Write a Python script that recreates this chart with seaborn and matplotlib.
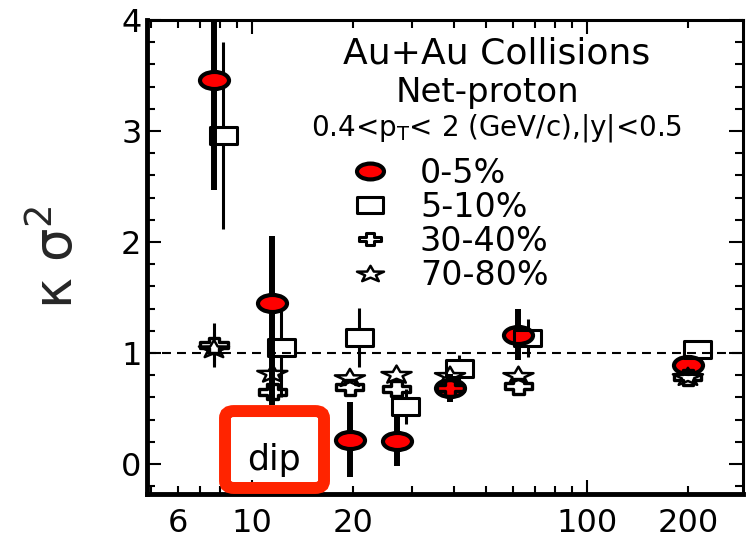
import numpy as np
import pandas as pd
import matplotlib
matplotlib.use("Agg")
import matplotlib.pyplot as plt
import seaborn as sns
from matplotlib.path import Path
from matplotlib.transforms import Affine2D
from matplotlib.lines import Line2D
from matplotlib.patches import FancyBboxPatch
from matplotlib.ticker import MultipleLocator

# ---------------- data ----------------
energy = [7.7, 11.5, 19.6, 27, 39, 62.4, 200]

k05 = [3.46, 1.455, 0.22, 0.21, 0.685, 1.165, 0.895]
k05_lo = [0.99, 0.92, 0.34, 0.23, 0.13, 0.23, 0.04]
k05_hi = [1.00, 0.60, 0.34, 0.21, 0.13, 0.23, 0.04]

k510 = [2.96, 1.05, 1.14, 0.52, 0.86, 1.135, 1.03]
k510_err = [0.84, 0.45, 0.27, 0.16, 0.12, 0.17, 0.04]

k3040 = [1.07, 0.65, 0.69, 0.68, 0.685, 0.70, 0.78]
k3040_err = [0.20, 0.06, 0.04, 0.04, 0.04, 0.04, 0.02]

k7080 = [1.04, 0.82, 0.78, 0.81, 0.80, 0.80, 0.79]
k7080_err = [0.15, 0.05, 0.03, 0.03, 0.03, 0.03, 0.01]

labels = ["0-5%", "5-10%", "30-40%", "70-80%"]
xtick_major = [10, 100]
xtick_minor = [5, 6, 7, 8, 9, 20, 30, 40, 50, 60, 70, 80, 90, 200]
xtick_minor_labels = ["", "6", "", "", "", "20", "", "", "", "", "", "", "", "200"]
ytick_major = [0, 1, 2, 3, 4]

# ---------------- style ----------------
sns.set_theme(style="ticks")
plt.rcParams["font.family"] = ["DejaVu Sans"]
plt.rcParams["mathtext.fontset"] = "dejavusans"

SHIFT_510 = 1.065
XLIM = (4.86, 292)
YLIM = (-0.27, 4.0)

# stretched marker shapes
ellipse = Path.unit_circle().transformed(Affine2D().scale(1.7, 1.0))
rect = Path([(-1.6, -1), (1.6, -1), (1.6, 1), (-1.6, 1), (-1.6, -1)],
            [Path.MOVETO, Path.LINETO, Path.LINETO, Path.LINETO, Path.CLOSEPOLY])
a = 0.40
cross_v = [(-a, 1), (a, 1), (a, a), (1, a), (1, -a), (a, -a), (a, -1), (-a, -1),
           (-a, -a), (-1, -a), (-1, a), (-a, a), (-a, 1)]
cross = Path(cross_v, [Path.MOVETO] + [Path.LINETO] * 11 + [Path.CLOSEPOLY]).transformed(
    Affine2D().scale(1.8, 1.0))
ang = np.pi / 2 + np.arange(10) * np.pi / 5
rad = np.where(np.arange(10) % 2 == 0, 1.0, 0.40)
star_v = np.column_stack([rad * np.cos(ang), rad * np.sin(ang) - 0.095])
star_v = np.vstack([star_v, star_v[:1]])
star = Path(star_v, [Path.MOVETO] + [Path.LINETO] * 9 + [Path.CLOSEPOLY]).transformed(
    Affine2D().scale(1.675, 1.0))

fig = plt.figure(figsize=(7.5, 5.42), dpi=100)
ax = fig.add_axes([147 / 750, 48 / 542, 596 / 750, 474 / 542])
ax.set_xscale("log")
ax.set_xlim(*XLIM)
ax.set_ylim(*YLIM)

px_per_unit = ax.bbox.height / (YLIM[1] - YLIM[0])

x05 = np.array(energy)
x510 = np.array(energy) * SHIFT_510

df = pd.DataFrame({"energy": energy, "x510": x510, "k05": k05, "k510": k510,
                   "k3040": k3040, "k7080": k7080})


def split_bars(x, y, lo, hi, half_px, lw, z):
    x = np.asarray(x); y = np.asarray(y); lo = np.asarray(lo); hi = np.asarray(hi)
    g = half_px / px_per_unit
    up = hi > g
    dn = lo > g
    ax.vlines(x[up], y[up] + g, y[up] + hi[up], color="black", lw=lw, zorder=z)
    ax.vlines(x[dn], y[dn] - lo[dn], y[dn] - g, color="black", lw=lw, zorder=z)


# reference line
ax.axhline(1.0, color="black", lw=1.5, ls=(0, (4.3, 2.9)), zorder=1)

# error bars
ax.vlines(x05, np.array(k05) - np.array(k05_lo), np.array(k05) + np.array(k05_hi),
          color="black", lw=4.3, zorder=2)
split_bars(x510, k510, k510_err, k510_err, 8.5, 2.2, 2)
split_bars(x05, k3040, k3040_err, k3040_err, 7.0, 2.2, 2)
split_bars(x05, k7080, k7080_err, k7080_err, 8.5, 2.2, 2)

# markers
sns.scatterplot(data=df, x="energy", y="k05", marker=ellipse, s=20.9 ** 2,
                color="#ff0000", edgecolor="black", linewidth=3.0, zorder=3, ax=ax)
sns.scatterplot(data=df, x="x510", y="k510", marker=rect, s=19.4 ** 2,
                color="none", edgecolor="black", linewidth=2.2, zorder=4, ax=ax)
sns.scatterplot(data=df, x="energy", y="k3040", marker=cross, s=19.5 ** 2,
                color="none", edgecolor="black", linewidth=2.4, zorder=4, ax=ax)
sns.scatterplot(data=df, x="energy", y="k7080", marker=star, s=21.6 ** 2,
                color="none", edgecolor="black", linewidth=1.8, zorder=4, ax=ax)

# axes styling
ax.set_xlabel("")
ax.set_ylabel("κ σ$^{2}$", fontsize=38)
ax.yaxis.set_label_coords(-0.105, 0.5)
ax.set_xticks(xtick_major, labels=[str(v) for v in xtick_major])
ax.set_xticks(xtick_minor, labels=xtick_minor_labels, minor=True)
ax.set_yticks(ytick_major, labels=[str(v) for v in ytick_major])
ax.yaxis.set_minor_locator(MultipleLocator(0.2))
ax.tick_params(axis="both", which="both", direction="in", top=True, right=True,
               labelsize=23, width=1.5, color="black", labelcolor="black")
ax.tick_params(axis="both", which="major", length=10)
ax.tick_params(axis="both", which="minor", length=6)
ax.tick_params(axis="x", which="both", pad=10)
ax.tick_params(axis="y", which="both", pad=4)
for side in ["left", "bottom"]:
    ax.spines[side].set_linewidth(3.5)
for side in ["top", "right"]:
    ax.spines[side].set_linewidth(2.2)
for sp in ax.spines.values():
    sp.set_color("black")
ax.grid(False)

# header text
ax.text(0.587, 0.909, "Au+Au Collisions", transform=ax.transAxes, ha="center",
        va="baseline", fontsize=26, color="black")
ax.text(0.571, 0.827, "Net-proton", transform=ax.transAxes, ha="center",
        va="baseline", fontsize=24.5, color="black")
ax.text(0.586, 0.757, "0.4<p$_{\\mathrm{T}}$< 2 (GeV/c),|y|<0.5", transform=ax.transAxes,
        ha="center", va="baseline", fontsize=20, color="black")

# legend
handles = [
    Line2D([], [], ls="none", marker=ellipse, markersize=19.4, mfc="#ff0000", mec="black", mew=3.0),
    Line2D([], [], ls="none", marker=rect, markersize=19.4, mfc="none", mec="black", mew=2.2),
    Line2D([], [], ls="none", marker=cross, markersize=16.0, mfc="none", mec="black", mew=2.2),
    Line2D([], [], ls="none", marker=star, markersize=19.4, mfc="none", mec="black", mew=1.8),
]
leg = ax.legend(handles, labels, loc="upper left", bbox_to_anchor=(0.346, 0.712),
                frameon=False, fontsize=24, handlelength=1.0, handletextpad=1.0,
                borderpad=0, borderaxespad=0, labelspacing=0.03)
for t in leg.get_texts():
    t.set_color("black")

# red "dip" box
box = FancyBboxPatch((0.1309, 0.0127), 0.297 - 0.1309, 0.175 - 0.0127,
                     boxstyle="round,pad=0,rounding_size=0.015", transform=ax.transAxes,
                     fill=False, edgecolor="#ff2400", linewidth=8.6, clip_on=False, zorder=10)
ax.add_patch(box)
ax.text(0.213, 0.072, "dip", transform=ax.transAxes, ha="center", va="center",
        fontsize=25, color="black", zorder=11)

fig.savefig("out.png", dpi=100)
